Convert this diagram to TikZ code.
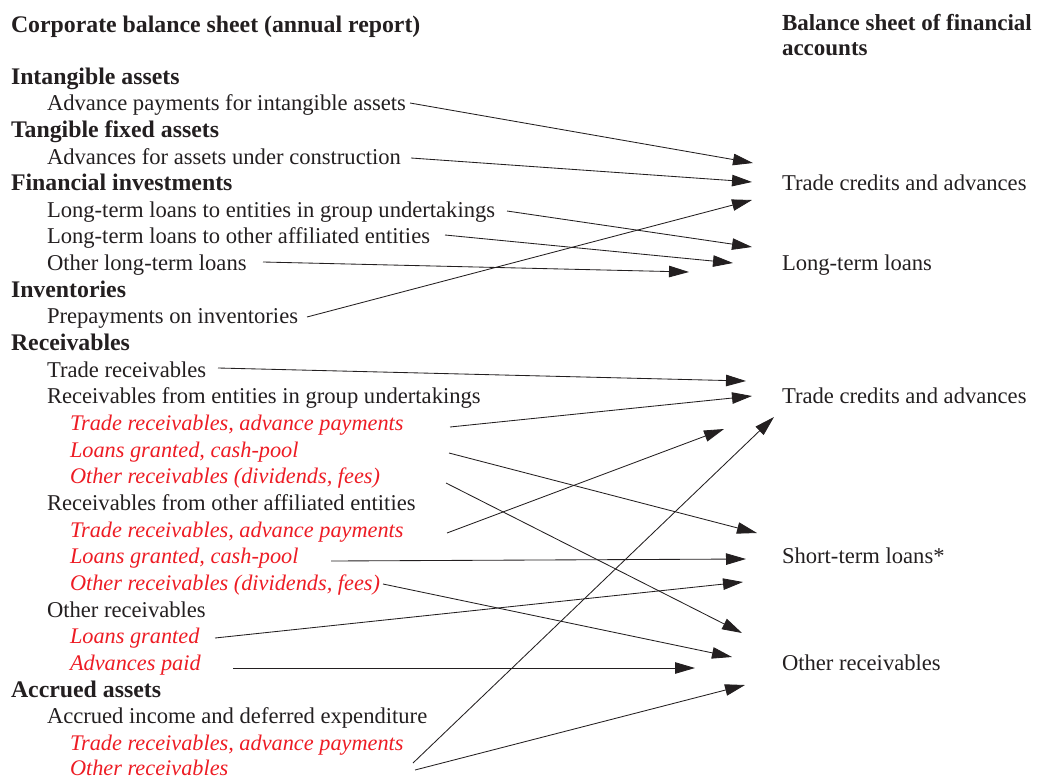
\documentclass[tikz,border=0pt]{standalone}
\usepackage{fontspec}
\setmainfont{Liberation Serif}
\usetikzlibrary{arrows.meta}
\definecolor{ink}{HTML}{231F20}
\definecolor{redtxt}{HTML}{ED1C24}
\begin{document}
\begin{tikzpicture}[x=1pt,y=-1pt,
  every node/.style={inner sep=0pt, outer sep=0pt, anchor=base west, text=ink, font=\fontsize{22.6}{25}\selectfont},
  head/.style={font=\fontsize{23.8}{25}\selectfont\bfseries},
  sub/.style={text=redtxt, font=\fontsize{22.3}{25}\selectfont\itshape},
  arr/.style={draw=ink, line width=0.85pt, -{Triangle[length=20pt,width=11.5pt]}}]
\useasboundingbox (0,0) rectangle (1044,779);
% headings
\node[head] (hl) at (11,32) {Corporate balance sheet (annual report)};
\node[head, align=left, font=\fontsize{23}{25}\selectfont\bfseries] (hr) at (782,55) {Balance sheet of financial\\accounts};
% left list
\node[head] (i0) at (11,84) {Intangible assets};
\node (i1) at (47,110.7) {Advance payments for intangible assets};
\node[head] (i2) at (11,137.3) {Tangible fixed assets};
\node (i3) at (47,164) {Advances for assets under construction};
\node[head] (i4) at (11,190.6) {Financial investments};
\node (i5) at (47,217.3) {Long-term loans to entities in group undertakings};
\node (i6) at (47,243.9) {Long-term loans to other affiliated entities};
\node (i7) at (47,270.6) {Other long-term loans};
\node[head] (i8) at (11,297.2) {Inventories};
\node (i9) at (47,323.9) {Prepayments on inventories};
\node[head] (i10) at (11,350.5) {Receivables};
\node (i11) at (47,377.2) {Trade receivables};
\node (i12) at (47,403.8) {Receivables from entities in group undertakings};
\node[sub] (i13) at (70,430.5) {Trade receivables, advance payments};
\node[sub] (i14) at (70,457.1) {Loans granted, cash-pool};
\node[sub] (i15) at (70,483.8) {Other receivables (dividends, fees)};
\node (i16) at (47,510.4) {Receivables from other affiliated entities};
\node[sub] (i17) at (70,537) {Trade receivables, advance payments};
\node[sub] (i18) at (70,563.7) {Loans granted, cash-pool};
\node[sub] (i19) at (70,590.3) {Other receivables (dividends, fees)};
\node (i20) at (47,617) {Other receivables};
\node[sub] (i21) at (70,643.6) {Loans granted};
\node[sub] (i22) at (70,670.3) {Advances paid};
\node[head] (i23) at (11,697) {Accrued assets};
\node (i24) at (47,723.6) {Accrued income and deferred expenditure};
\node[sub] (i25) at (70,750.3) {Trade receivables, advance payments};
\node[sub] (i26) at (70,775) {Other receivables};
% right list
\node (t1) at (782,190) {Trade credits and advances};
\node (t2) at (782,270) {Long-term loans};
\node (t3) at (782,403) {Trade credits and advances};
\node (t4) at (782,563) {Short-term loans*};
\node (t5) at (782,670) {Other receivables};
% connectors
\draw[arr] ([shift={(363,-7.7)}]i1.base west) -- ([shift={(-29,-27)}]t1.base west);
\draw[arr] ([shift={(364,-6)}]i3.base west) -- ([shift={(-30,-8)}]t1.base west);
\draw[arr] ([shift={(460,-6.3)}]i5.base west) -- ([shift={(-30,-23)}]t2.base west);
\draw[arr] ([shift={(398,-8.9)}]i6.base west) -- ([shift={(-49,-7)}]t2.base west);
\draw[arr] ([shift={(216,-8.6)}]i7.base west) -- ([shift={(-93,2)}]t2.base west);
\draw[arr] ([shift={(260,-6.9)}]i9.base west) -- ([shift={(-30,10)}]t1.base west);
\draw[arr] ([shift={(171,-9.2)}]i11.base west) -- ([shift={(-36,-22)}]t3.base west);
\draw[arr] ([shift={(380,-3.5)}]i13.base west) -- ([shift={(-30,-7)}]t3.base west);
\draw[arr] ([shift={(379,-4.1)}]i14.base west) -- ([shift={(-25,-30)}]t4.base west);
\draw[arr] ([shift={(376,-0.8)}]i15.base west) -- ([shift={(-40,-37)}]t5.base west);
\draw[arr] ([shift={(377,-4)}]i17.base west) -- ([shift={(-58,26)}]t3.base west);
\draw[arr] ([shift={(261,-2.7)}]i18.base west) -- ([shift={(-36,-4)}]t4.base west);
\draw[arr] ([shift={(313,-6.3)}]i19.base west) -- ([shift={(-50,-13)}]t5.base west);
\draw[arr] ([shift={(145,-5.6)}]i21.base west) -- ([shift={(-39,19)}]t4.base west);
\draw[arr] ([shift={(163,-2.3)}]i22.base west) -- ([shift={(-87,-2)}]t5.base west);
\draw[arr] ([shift={(343,12.7)}]i25.base west) -- ([shift={(-8,14)}]t3.base west);
\draw[arr] ([shift={(345,-5)}]i26.base west) -- ([shift={(-37,15)}]t5.base west);
\end{tikzpicture}
\end{document}
